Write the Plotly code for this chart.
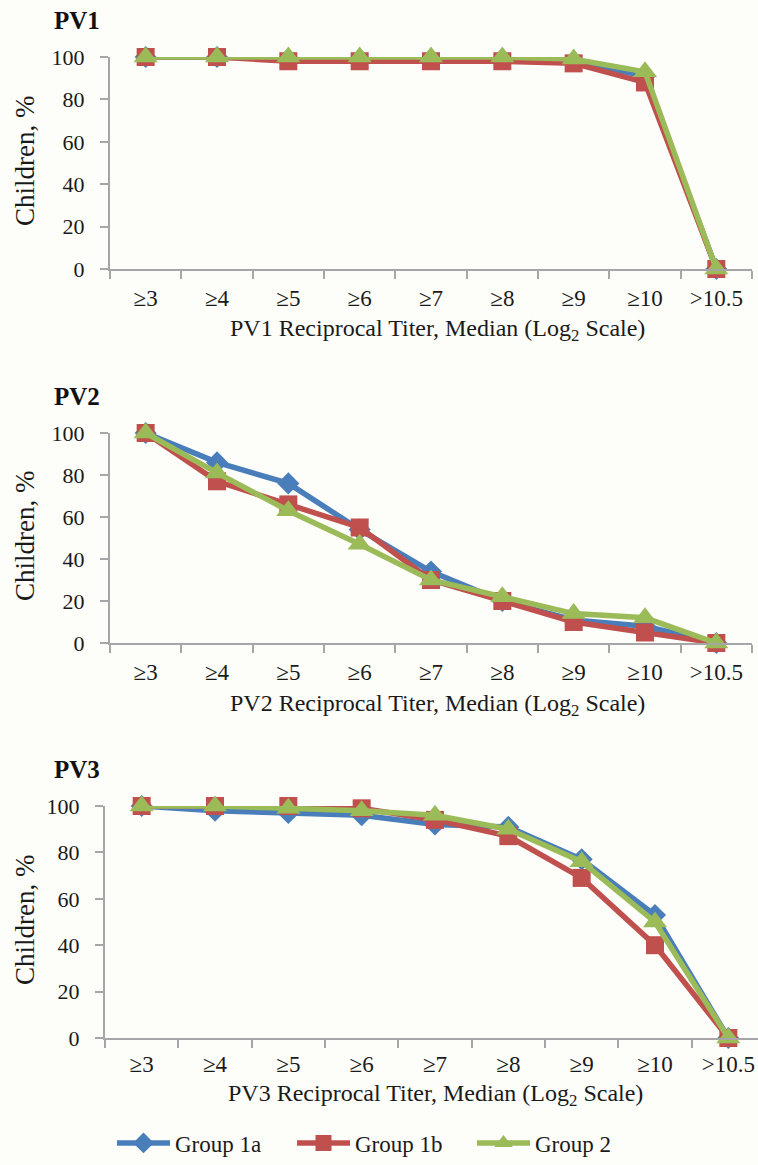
import plotly.graph_objects as go

categories = ["≥3", "≥4", "≥5", "≥6", "≥7", "≥8", "≥9", "≥10", ">10.5"]
groups = ["Group 1a", "Group 1b", "Group 2"]

pv1_g1a = [100, 100, 99, 99, 99, 99, 98, 91, 0]
pv1_g1b = [100, 100, 98, 98, 98, 98, 97, 88, 0]
pv1_g2 = [100, 100, 100, 100, 100, 100, 99, 93, 0]

pv2_g1a = [100, 86, 76, 54, 34, 20, 11, 8, 0]
pv2_g1b = [100, 77, 66, 55, 30, 20, 10, 5, 0]
pv2_g2 = [100, 81, 63, 47, 30, 22, 14, 12, 0]

pv3_g1a = [100, 98, 97, 96, 92, 91, 77, 53, 0]
pv3_g1b = [100, 100, 100, 99, 94, 87, 69, 40, 0]
pv3_g2 = [100, 100, 99, 98, 96, 90, 76, 50, 0]

panel_titles = ["PV1", "PV2", "PV3"]
x_titles = ["PV1 Reciprocal Titer, Median (Log<sub>2</sub> Scale)",
            "PV2 Reciprocal Titer, Median (Log<sub>2</sub> Scale)",
            "PV3 Reciprocal Titer, Median (Log<sub>2</sub> Scale)"]
y_title = "Children, %"
y_ticks = [0, 20, 40, 60, 80, 100]

W, H = 758, 1165
colors = ["#4A7EBB", "#C0504D", "#9BBB59"]
symbols = ["diamond", "square", "triangle-up"]
msizes = [17, 18, 21]
FONT = "Liberation Serif, Times New Roman, serif"
AX = "#A6A6A6"
TXT = "#1a1a1a"

# pixel geometry of panels: (x0, x1, y_top, y_bottom, xrange_end, title_offset, title_cx)
panels = [
    (110, 752, 57, 269, 8.5, 61, 437),
    (110, 752, 433, 643, 8.5, 62, 437),
    (105, 758, 806, 1038, 8.5 - 7 / 73.3, 57, 435),
]
data = [
    [pv1_g1a, pv1_g1b, pv1_g2],
    [pv2_g1a, pv2_g1b, pv2_g2],
    [pv3_g1a, pv3_g1b, pv3_g2],
]

fig = go.Figure()
for p, (x0, x1, yt, yb, xend, toff, tcx) in enumerate(panels):
    sfx = "" if p == 0 else str(p + 1)
    for g in range(3):
        fig.add_trace(go.Scatter(
            x=categories, y=data[p][g], mode="lines+markers", name=groups[g],
            line=dict(color=colors[g], width=5.5),
            marker=dict(symbol=symbols[g], size=msizes[g], color=colors[g]),
            xaxis="x" + sfx, yaxis="y" + sfx, cliponaxis=False,
            showlegend=(p == 0),
        ))
    fig.layout["xaxis" + sfx] = dict(
        domain=[x0 / W, x1 / W], anchor="y" + sfx, type="category",
        range=[-0.5, xend], showgrid=False, zeroline=False, automargin=False,
        showline=True, linecolor=AX, linewidth=2,
        ticks="outside", tickson="boundaries", ticklen=8, tickcolor=AX, tickwidth=2,
        ticklabelstandoff=7 if p < 2 else 4,
        tickfont=dict(family=FONT, size=23, color=TXT),
        fixedrange=True,
    )
    fig.layout["yaxis" + sfx] = dict(
        domain=[1 - yb / H, 1 - yt / H], anchor="x" + sfx, range=[0, 100],
        tickvals=y_ticks, showgrid=False, zeroline=False, automargin=False,
        showline=True, linecolor=AX, linewidth=2,
        ticks="outside", ticklen=8, tickcolor=AX, tickwidth=2,
        ticklabelstandoff=11,
        tickfont=dict(family=FONT, size=22, color=TXT),
        fixedrange=True,
    )
    fig.add_annotation(
        text=x_titles[p], xref="paper", yref="paper",
        x=tcx / W, y=1 - (yb + toff) / H, xanchor="center", yanchor="middle",
        showarrow=False, font=dict(family=FONT, size=24, color=TXT),
    )
    fig.add_annotation(
        text="<b>%s</b>" % panel_titles[p], xref="paper", yref="paper",
        x=52 / W, y=1 - (yt - 37) / H, xanchor="left", yanchor="middle",
        showarrow=False, font=dict(family=FONT, size=25, color="#111"),
    )
    fig.add_annotation(
        text=y_title, xref="paper", yref="paper", textangle=-90,
        x=25 / W, y=1 - ((yt + yb) / 2 - 2) / H, xanchor="center", yanchor="middle",
        showarrow=False, font=dict(family=FONT, size=27, color=TXT),
    )

fig.update_layout(
    width=W, height=H, margin=dict(l=0, r=0, t=0, b=0, autoexpand=False),
    paper_bgcolor="#FDFDF9", plot_bgcolor="#FDFDF9",
    showlegend=True,
    legend=dict(orientation="h", x=112 / W, xanchor="left", y=1 - 1143 / H, yanchor="middle",
                font=dict(family=FONT, size=23, color=TXT), itemwidth=53,
                entrywidth=112, bgcolor="rgba(0,0,0,0)"),
)

fig.write_html("out.html", config={"displayModeBar": False},
               post_script="document.body.style.margin='0';document.body.style.overflow='hidden';")
